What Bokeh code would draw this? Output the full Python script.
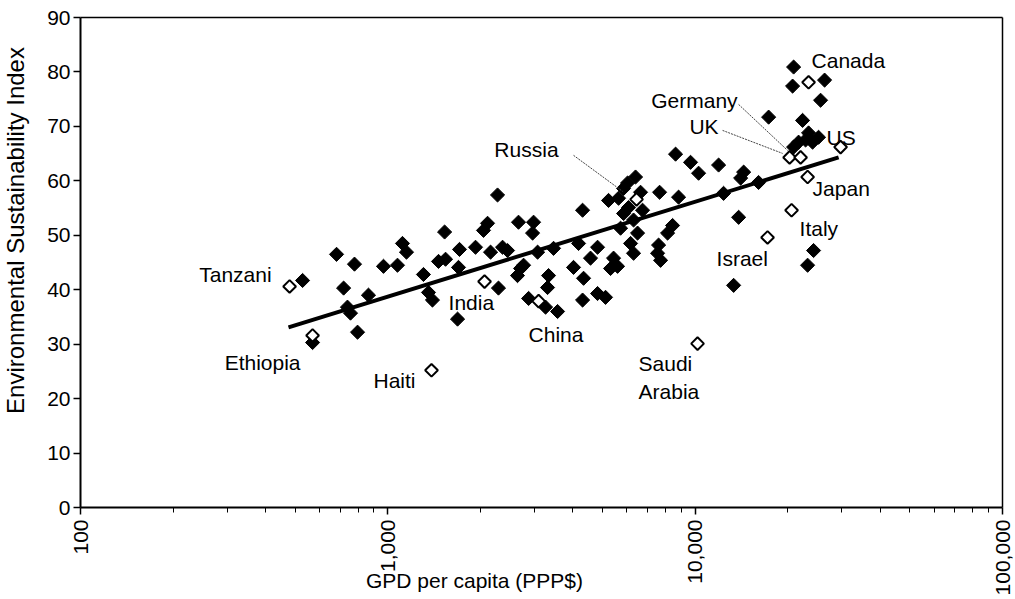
import math
from bokeh.plotting import figure
from bokeh.models import (FixedTicker, NumeralTickFormatter, ColumnDataSource, Label,
                          Range1d, LogAxis, LinearAxis)
from bokeh.core.properties import value
from bokeh.embed import file_html
from bokeh.resources import INLINE

# ---------------- data ----------------
filled_gdp = [528, 569, 681, 779, 718, 865, 739, 756, 797, 968, 1075, 1116, 1150, 1306, 1356, 1397,
              1686, 1530, 1462, 1541, 1711, 1929, 1698, 2275, 2111, 2048, 2662, 2980, 2958, 2159,
              2362, 2452, 3071, 3461, 4175, 4302, 4813, 4566, 4020, 5426, 5591, 5305, 2703, 2642,
              2765, 3334, 3309, 4334, 2291, 2871, 3260, 3567, 4302, 4813, 5109, 5226, 5633, 6071,
              5848, 6303, 6495, 6163, 6303, 6397, 6026, 5848, 6642, 6742, 5718, 8443, 8133, 7603,
              7546, 7717, 8635, 9660, 10260, 11920, 14380, 14060, 16080, 7660, 8831, 12370, 13850,
              13340, 24280, 23220, 20910, 20750, 26370, 25590, 17340, 22360, 23390, 25200, 22870,
              21700, 20910, 24100]
filled_esi = [41.7, 30.3, 46.5, 44.7, 40.3, 39.0, 36.8, 35.7, 32.2, 44.3, 44.5, 48.5, 46.9, 42.8, 39.5, 38.1,
              34.6, 50.6, 45.2, 45.6, 47.4, 47.8, 44.1, 57.4, 52.2, 50.9, 52.4, 52.4, 50.4, 46.9,
              47.8, 47.2, 46.9, 47.6, 48.5, 54.6, 47.8, 45.8, 44.1, 45.8, 44.3, 43.9, 43.9, 42.6,
              44.5, 42.6, 40.4, 42.1, 40.3, 38.4, 36.8, 36.0, 38.1, 39.3, 38.6, 56.4, 56.8, 55.1,
              54.0, 52.8, 50.4, 48.5, 46.7, 60.7, 59.6, 58.6, 57.9, 54.6, 51.3, 51.8, 50.4, 48.2,
              46.7, 45.4, 64.9, 63.4, 61.4, 62.9, 61.6, 60.5, 59.7, 57.9, 57.0, 57.7, 53.3,
              40.8, 47.2, 44.5, 80.9, 77.4, 78.5, 74.8, 71.7, 71.1, 68.8, 68.0, 67.5,
              67.1, 66.2, 67.1]

countries = ["Tanzani", "Ethiopia", "Haiti", "India", "China", "Russia", "Saudi\nArabia",
             "Israel", "Italy", "Japan", "UK", "Germany", "US", "Canada"]
country_gdp = [479, 569, 1387, 2064, 3094, 6446, 10180, 17200, 20590, 23220, 20290, 22030, 29730, 23390]
country_esi = [40.6, 31.6, 25.2, 41.5, 37.9, 56.6, 30.1, 49.6, 54.6, 60.7, 64.3, 64.3, 66.2, 78.1]

trend_gdp = [475, 29300]
trend_esi = [33.1, 64.3]

x_ticks = [100, 1000, 10000, 100000]
y_ticks = [0, 10, 20, 30, 40, 50, 60, 70, 80, 90]
x_title = "GPD per capita (PPP$)"
y_title = "Environmental Sustainability Index"

# ---------------- layout / styles ----------------
FONT = "Liberation Sans"
FS = "21px"
W, H = 1014, 598
AX_L, AX_R, AX_T, AX_B = 80, 1002, 17, 507      # axis box in canvas pixels
PPD = (AX_R - AX_L) / 3.0                         # pixels per decade
PPY = (AX_B - AX_T) / 90.0                        # pixels per ESI unit

label_style = {   # (dx, dy, align) screen px relative to the point
    "Tanzani": (-18, -12, "right"),
    "Ethiopia": (-50, 27, "center"),
    "Haiti": (-16, 10, "right"),
    "India": (-36, 21, "left"),
    "China": (-10, 33, "left"),
    "Russia": (-78, -50, "right"),
    "Saudi\nArabia": (-59, 34, "left"),
    "Israel": (-51, 21, "left"),
    "Italy": (8, 18, "left"),
    "Japan": (5, 11, "left"),
    "UK": (-71, -31, "right"),
    "Germany": (-63, -57, "right"),
    "US": (-14, -10, "left"),
    "Canada": (3, -22, "left"),
}
leader_style = {  # (start dx, start dy, end dx, end dy) relative to the point
    "Russia": (-63, -44, -14, -8),
    "Germany": (-62, -53, -13, -7),
    "UK": (-67, -27, -7, -4),
}

def px_to_x(px):
    return 10 ** (2 + (px - AX_L) / PPD)

def py_to_y(py):
    return (AX_B - py) / PPY

p = figure(width=W, height=H, x_axis_type="log",
           x_range=Range1d(px_to_x(0), px_to_x(W)),
           y_range=Range1d(py_to_y(H), py_to_y(0)),
           output_backend="svg", toolbar_location=None,
           min_border_left=0, min_border_right=0, min_border_top=0, min_border_bottom=0)
p.background_fill_color = "white"
p.border_fill_color = "white"
p.outline_line_color = None
p.grid.visible = False

xa = p.below[0]
ya = p.left[0]

minor = []
for d in [100, 1000, 10000]:
    minor += [d * k for k in range(2, 10)]
xa.ticker = FixedTicker(ticks=x_ticks, minor_ticks=minor)
xa.formatter = NumeralTickFormatter(format="0,0")
xa.fixed_location = 0
xa.bounds = (x_ticks[0], x_ticks[-1])
xa.major_label_orientation = math.pi / 2
xa.major_tick_out = 7
xa.major_tick_in = 0
xa.minor_tick_out = 5
xa.minor_tick_in = 0
xa.major_label_standoff = 5
xa.minor_tick_line_color = "black"
xa.minor_tick_line_width = 1

ya.ticker = FixedTicker(ticks=y_ticks)
ya.fixed_location = x_ticks[0]
ya.bounds = (y_ticks[0], y_ticks[-1])
ya.minor_tick_line_color = None
ya.major_tick_out = 7
ya.major_tick_in = 0
ya.major_label_standoff = 3

for ax in (xa, ya):
    ax.axis_line_width = 2
    ax.axis_line_color = "black"
    ax.major_tick_line_color = "black"
    ax.major_tick_line_width = 1.5
    ax.major_label_text_font = FONT
    ax.major_label_text_font_size = FS
    ax.major_label_text_color = "black"

# plain border on the top and right of the box
top = LogAxis(fixed_location=y_ticks[-1], bounds=(x_ticks[0], x_ticks[-1]),
              ticker=FixedTicker(ticks=[]), major_tick_line_color=None,
              minor_tick_line_color=None, major_label_text_font_size="0px",
              axis_line_width=1.5, axis_line_color="black")
right = LinearAxis(fixed_location=x_ticks[-1], bounds=(y_ticks[0], y_ticks[-1]),
                   ticker=FixedTicker(ticks=[]), major_tick_line_color=None,
                   minor_tick_line_color=None, major_label_text_font_size="0px",
                   axis_line_width=1.5, axis_line_color="black")
p.add_layout(top, "above")
p.add_layout(right, "right")

# filled points
p.scatter(filled_gdp, filled_esi, marker="square", angle=math.pi / 4, size=10,
          fill_color="black", line_color="black", line_width=1)

# trend line
p.line(trend_gdp, trend_esi, line_color="black", line_width=4)

# open (labelled) points
p.scatter(country_gdp, country_esi, marker="square", angle=math.pi / 4, size=9,
          fill_color="white", line_color="black", line_width=2)

# leader lines
def shift(g, e, dx, dy):
    return g * 10 ** (dx / PPD), e - dy / PPY

x0s, y0s, x1s, y1s = [], [], [], []
for name, (sdx, sdy, edx, edy) in leader_style.items():
    i = countries.index(name)
    a = shift(country_gdp[i], country_esi[i], sdx, sdy)
    b = shift(country_gdp[i], country_esi[i], edx, edy)
    x0s.append(a[0]); y0s.append(a[1]); x1s.append(b[0]); y1s.append(b[1])
p.segment(x0s, y0s, x1s, y1s, line_color="#444444", line_width=1, line_dash="2 1")

# country labels
for align in ("left", "right", "center"):
    rows = [i for i, c in enumerate(countries) if label_style[c][2] == align]
    src = ColumnDataSource(dict(
        x=[country_gdp[i] for i in rows],
        y=[country_esi[i] for i in rows],
        t=[countries[i] for i in rows],
        xo=[label_style[countries[i]][0] for i in rows],
        yo=[label_style[countries[i]][1] for i in rows],
    ))
    p.text(x="x", y="y", text="t", x_offset="xo", y_offset="yo", source=src,
           text_align=align, text_baseline="middle", text_font=value(FONT),
           text_font_size=FS, text_color="black", text_line_height=1.25)

# axis titles (placed as in the original, the x title sits between the tick labels)
p.add_layout(Label(x=px_to_x(474), y=py_to_y(580), text=x_title,
                   text_align="center", text_baseline="middle", text_font=FONT,
                   text_font_size=FS, text_color="black"))
p.add_layout(Label(x=px_to_x(15), y=py_to_y(230), text=y_title,
                   angle=math.pi / 2, text_align="center", text_baseline="middle",
                   text_font=FONT, text_font_size="24px", text_color="black"))

open("out.html", "w").write(file_html(p, INLINE))
